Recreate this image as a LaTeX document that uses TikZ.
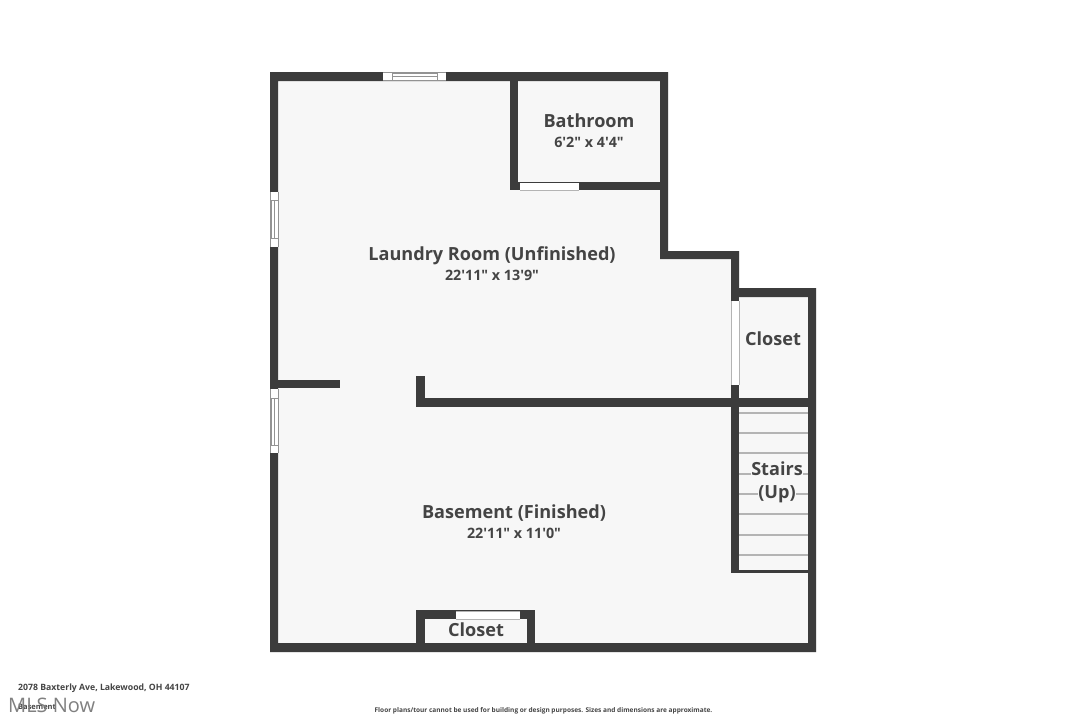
\documentclass[tikz,border=0pt]{standalone}
\usepackage{fontspec}
\setmainfont{Open Sans}[Ligatures=TeXOff]
\definecolor{wallc}{HTML}{3C3C3C}
\definecolor{floorc}{HTML}{F7F7F7}
\definecolor{textc}{HTML}{444444}
\definecolor{trd}{HTML}{B4B4B4}
\tikzset{
  wall/.style={fill=wallc,draw=none},
  roomname/.style={anchor=base,text=textc,font=\fontsize{18.1}{22}\selectfont\bfseries,align=center,inner sep=0pt},
  roomdim/.style={anchor=base,text=textc,font=\fontsize{14.3}{17}\selectfont\bfseries,inner sep=0pt},
  tread/.style={draw=trd,line width=1.1pt},
  opening/.style={fill=white,draw=none},
  frame/.style={draw=gray!85,line width=.8pt,fill=none},
}
\begin{document}
\begin{tikzpicture}[x=1pt,y=-1pt]
\useasboundingbox[fill=white] (0,0) rectangle (1086,724);
% floor
\fill[floorc] (270,72) -- (668,72) -- (668,251) -- (739,251) -- (739,288) -- (816,288) -- (816,652) -- (270,652) -- cycle;
% treads
\foreach \y in {413,433,453,474,494,514,535,555} \draw[tread] (739,\y) -- (808,\y);
% outer walls
\fill[wall,even odd rule] (270,72) -- (668,72) -- (668,251) -- (739,251) -- (739,288) -- (816,288) -- (816,652) -- (270,652) -- cycle
  (278,81) -- (660,81) -- (660,259) -- (731,259) -- (731,297) -- (808,297) -- (808,643) -- (278,643) -- cycle;
% inner walls
\fill[wall] (731,288) rectangle (739,407);
\fill[wall] (510,72) rectangle (518,190);
\fill[wall] (510,182) rectangle (668,190);
\fill[wall] (278,380) rectangle (340,388);
\fill[wall] (416,376) rectangle (425,407);
\fill[wall] (416,398) rectangle (808,407);
\fill[wall] (731,398) rectangle (739,572);
\fill[wall] (731,570) rectangle (808,572.5);
\fill[wall] (416,610) rectangle (425,652);
\fill[wall] (527,610) rectangle (535,652);
\fill[wall] (416,610) rectangle (535,619);
% openings
\fill[opening] (520,182.5) rectangle (579,190);
\draw[trd,line width=.8pt] (520,190) -- (579,190);
\fill[opening] (731.5,301) rectangle (739,385);
\draw[trd,line width=.8pt] (731.5,301) -- (731.5,385) (739,301) -- (739,385);
\fill[opening] (456,611) rectangle (520,619);
\draw[trd,line width=.8pt] (456,611) -- (520,611) (456,619) -- (520,619);
% windows
\fill[opening] (383,72.5) rectangle (446,81);
\draw[frame] (383,72.5) -- (446,72.5) (383,80.5) -- (446,80.5);
\draw[frame] (392,73) rectangle (437,80) (392,76.5) -- (437,76.5);
\fill[opening] (270.5,192) rectangle (278,247);
\draw[frame] (270.5,192) -- (270.5,247) (278,192) -- (278,247);
\draw[frame] (271,200) rectangle (278,238) (274.5,200) -- (274.5,238);
\fill[opening] (270.5,389) rectangle (278,453);
\draw[frame] (270.5,389) -- (270.5,453) (278,389) -- (278,453);
\draw[frame] (271,398) rectangle (278,445) (274.5,398) -- (274.5,445);
% labels
\node[roomname] (bath) at (589,127) {Bathroom};
\node[roomdim] (bathd) at (589,147) {6'2" x 4'4"};
\node[roomname] (laundry) at (492,260) {Laundry Room (Unfinished)};
\node[roomdim] (laundryd) at (492,280) {22'11" x 13'9"};
\node[roomname] (closeta) at (773,345) {Closet};
\node[roomname,fill=floorc] (stairs) at (777,475) {Stairs};
\node[roomname,fill=floorc] (up) at (777,498) {(Up)};
\node[roomname] (base) at (514,518.5) {Basement (Finished)};
\node[roomdim] (based) at (514,538) {22'11" x 11'0"};
\node[roomname] (closetb) at (476,636.5) {Closet};
% footer
\node[anchor=west,text=textc,inner sep=0pt,font=\fontsize{8.7}{10}\selectfont\bfseries] (addr) at (18,688.5) {2078 Baxterly Ave, Lakewood, OH 44107};
\node[anchor=west,text=textc,inner sep=0pt,font=\fontsize{7.5}{9}\selectfont\bfseries] (lvl) at (18,706.5) {Basement};
\node[anchor=west,text=gray,inner sep=0pt,font=\fontsize{20}{22}\selectfont] (mls) at (8,705) {MLS Now};
\node[text=textc,inner sep=0pt,font=\fontsize{6.53}{8}\selectfont\bfseries] (note) at (543.5,711) {Floor plans/tour cannot be used for building or design purposes. Sizes and dimensions are approximate.};
\end{tikzpicture}
\end{document}
